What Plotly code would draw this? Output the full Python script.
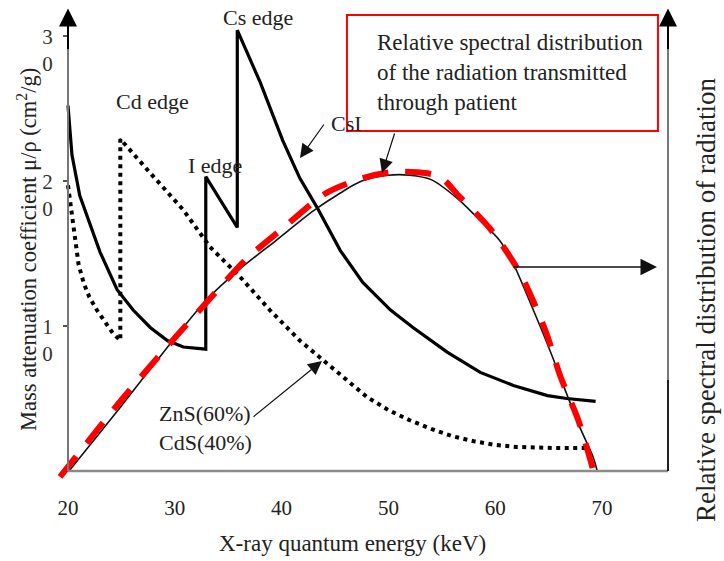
import plotly.graph_objects as go

# ---------------- data ----------------
# CsI mass attenuation coefficient (cm^2/g) vs energy (keV)
x_csi = [20.0, 20.37, 21.1, 22.05, 23.0, 24.6, 26.1, 27.7, 29.3, 30.8, 32.9, 32.9,
         35.85, 35.85, 38.0, 40.1, 41.7, 43.3, 45.5, 47.6, 50.2, 52.3, 55.5, 58.6,
         61.7, 64.9, 66.7, 69.4]
y_csi = [25.2, 21.8, 19.0, 17.0, 15.1, 12.5, 11.1, 9.9, 9.0, 8.55, 8.4, 20.3,
         16.8, 30.4, 26.8, 22.8, 20.2, 18.2, 15.2, 13.0, 11.1, 9.9, 8.2, 6.8,
         5.9, 5.2, 5.0, 4.8]

# ZnS(60%) / CdS(40%) mass attenuation coefficient
x_zns = [20.0, 20.3, 20.6, 21.0, 21.5, 22.0, 22.7, 23.5, 24.2, 24.9, 24.9, 27.7,
         30.8, 33.3, 36.1, 38.9, 41.7, 44.2, 46.0, 48.0, 50.0, 52.0, 54.0, 56.0,
         58.0, 60.0, 62.0, 64.0, 66.0, 68.9]
y_zns = [19.7, 18.0, 16.0, 14.2, 12.9, 12.0, 11.1, 10.2, 9.5, 9.0, 22.9, 20.55,
         18.0, 15.45, 13.4, 11.1, 9.0, 7.45, 6.3, 5.1, 4.2, 3.5, 2.9, 2.4,
         2.05, 1.8, 1.66, 1.6, 1.58, 1.58]

# relative spectral distribution transmitted through patient (black thin curve)
x_spec = [20.1, 25.0, 30.0, 33.0, 36.0, 39.5, 43.0, 45.5, 47.5, 50.0, 52.0, 54.0,
          56.5, 58.5, 60.4, 61.7, 63.5, 65.1, 66.7, 67.9, 69.2, 69.55]
rel_spec = [0.0, 0.22, 0.45, 0.58, 0.68, 0.78, 0.88, 0.94, 0.98, 1.0, 1.0, 0.985,
            0.92, 0.85, 0.78, 0.70, 0.55, 0.41, 0.26, 0.15, 0.044, 0.0]

# red dashed overlay curve
x_fit = [19.25, 25.0, 30.0, 33.3, 36.8, 40.1, 44.2, 47.6, 50.2, 52.7, 54.8, 56.7,
         59.5, 62.3, 64.7, 66.1, 67.8, 69.35]
rel_fit = [-0.02, 0.24, 0.45, 0.583, 0.72, 0.82, 0.94, 0.99, 1.01, 1.01, 0.995, 0.926,
           0.82, 0.67, 0.475, 0.32, 0.17, -0.02]

x_ticks = [20, 30, 40, 50, 60, 70]
x_tick_labels = ["20", "30", "40", "50", "60", "70"]
y_ticks = [10, 20, 30]
y_tick_labels = ["1<br>0", "2<br>0", "3<br>0"]

# ---------------- layout constants ----------------
FONT = "Liberation Serif, Times New Roman, serif"
TXT = "#222222"
W, H = 724, 561
ML, MR, MT, MB = 40, 40, 5, 61
X_RANGE = [17.378, 77.678]
Y_RANGE = [-2.0, 32.138]
PEAK_ABS = 20.4                      # left-axis height of relative value 1.0
Y2_RANGE = [v / PEAK_ABS for v in Y_RANGE]
X_AX_L, X_AX_R = 20.0, 76.18         # left / right axis positions (keV)
Y_TOP = 31.9


def px_x(px):
    return (px - ML) / (W - ML - MR)


def px_y(py):
    return (H - MB - py) / (H - MT - MB)


fig = go.Figure()

fig.add_trace(go.Scatter(x=x_zns, y=y_zns, mode="lines",
                         line=dict(color="black", width=4, dash="4px,4.5px"),
                         showlegend=False, hoverinfo="skip"))
fig.add_trace(go.Scatter(x=x_csi, y=y_csi, mode="lines",
                         line=dict(color="black", width=3.2),
                         showlegend=False, hoverinfo="skip"))
fig.add_trace(go.Scatter(x=x_spec, y=rel_spec, yaxis="y2", mode="lines",
                         line=dict(color="#111111", width=1.6, shape="spline", smoothing=0.8),
                         showlegend=False, hoverinfo="skip"))
fig.add_trace(go.Scatter(x=x_fit, y=rel_fit, yaxis="y2", mode="lines",
                         line=dict(color="#ff0000", width=6, dash="26px,17px",
                                   shape="spline", smoothing=0.8),
                         showlegend=False, hoverinfo="skip"))

shapes = [
    # bottom axis
    dict(type="line", xref="x", yref="y", x0=X_AX_L, x1=X_AX_R, y0=0, y1=0,
         line=dict(color="#8a8a8a", width=2.5)),
    # left axis
    dict(type="line", xref="x", yref="y", x0=X_AX_L, x1=X_AX_L, y0=0, y1=30.5,
         line=dict(color="#777777", width=2)),
    # right axis (grey upper, black lower)
    dict(type="line", xref="x", yref="y", x0=X_AX_R, x1=X_AX_R, y0=6.3, y1=30.5,
         line=dict(color="#777777", width=2)),
    dict(type="line", xref="x", yref="y", x0=X_AX_R, x1=X_AX_R, y0=0, y1=6.3,
         line=dict(color="#222222", width=2)),
    # red box
    dict(type="rect", xref="x", yref="y", x0=46.12, x1=75.24, y0=23.45, y1=31.45,
         line=dict(color="#ff0000", width=2)),
]


def arrow(tip_x, tip_y, tail_x, tail_y, width, size, color="#111111"):
    return dict(x=tip_x, y=tip_y, ax=tail_x, ay=tail_y, xref="x", yref="y",
                axref="x", ayref="y", text="", showarrow=True, arrowhead=2,
                arrowwidth=width, arrowsize=size, arrowcolor=color)


def label(x, y, text, size=22, xanchor="center", align="center"):
    return dict(x=x, y=y, xref="x", yref="y", text=text, showarrow=False,
                xanchor=xanchor, yanchor="middle", align=align,
                font=dict(family=FONT, size=size, color=TXT))


annotations = [
    arrow(X_AX_L, Y_TOP, X_AX_L, 29.0, 2, 1.8, "black"),
    arrow(X_AX_R, Y_TOP, X_AX_R, 29.0, 2, 1.8, "black"),
    arrow(75.15, 14.07, 61.57, 14.07, 1.5, 2.2),
    arrow(41.72, 21.59, 44.06, 24.0, 1.2, 2.3),
    arrow(49.40, 20.55, 50.62, 23.38, 1.2, 2.3),
    arrow(43.78, 7.59, 37.23, 3.66, 1.2, 2.3),
    label(37.79, 31.31, "Cs edge"),
    label(27.87, 25.45, "Cd edge"),
    label(33.76, 21.1, "I edge"),
    label(46.12, 24.0, "CsI"),
    label(28.33, 3.0, "ZnS(60%)<br>CdS(40%)", xanchor="left", align="left"),
    label(48.75, 27.45, "Relative spectral distribution<br>of the radiation transmitted"
          "<br>through patient", size=23, xanchor="left", align="left"),
    dict(x=px_x(352), y=px_y(543), xref="paper", yref="paper",
         text="X-ray quantum energy (keV)", showarrow=False,
         xanchor="center", yanchor="middle",
         font=dict(family=FONT, size=23, color=TXT)),
    dict(x=px_x(27), y=px_y(250), xref="paper", yref="paper",
         text="Mass attenuation coefficient \u03bc/\u03c1 (cm<sup>2</sup>/g)",
         showarrow=False, textangle=-90, xanchor="center", yanchor="middle",
         font=dict(family=FONT, size=22.5, color=TXT)),
    dict(x=px_x(706), y=px_y(300), xref="paper", yref="paper",
         text="Relative spectral distribution of radiation",
         showarrow=False, textangle=-90, xanchor="center", yanchor="middle",
         font=dict(family=FONT, size=27, color=TXT)),
]

fig.update_layout(
    width=W, height=H,
    margin=dict(l=ML, r=MR, t=MT, b=MB),
    paper_bgcolor="white", plot_bgcolor="white",
    showlegend=False,
    shapes=shapes,
    annotations=annotations,
    xaxis=dict(range=X_RANGE, anchor="free", position=px_y(471),
               showline=False, showgrid=False, zeroline=False,
               tickvals=x_ticks, ticktext=x_tick_labels, ticks="",
               ticklabelstandoff=22,
               tickfont=dict(family=FONT, size=21, color=TXT)),
    yaxis=dict(range=Y_RANGE, anchor="free", position=px_x(68),
               showline=False, showgrid=False, zeroline=False,
               tickvals=y_ticks, ticktext=y_tick_labels, ticks="outside",
               ticklen=5, tickwidth=1.5, tickcolor="#555555",
               ticklabelshift=14, ticklabelstandoff=6,
               tickfont=dict(family=FONT, size=21, color="#333333")),
    yaxis2=dict(range=Y2_RANGE, overlaying="y", visible=False),
)

fig.write_html("out.html")
